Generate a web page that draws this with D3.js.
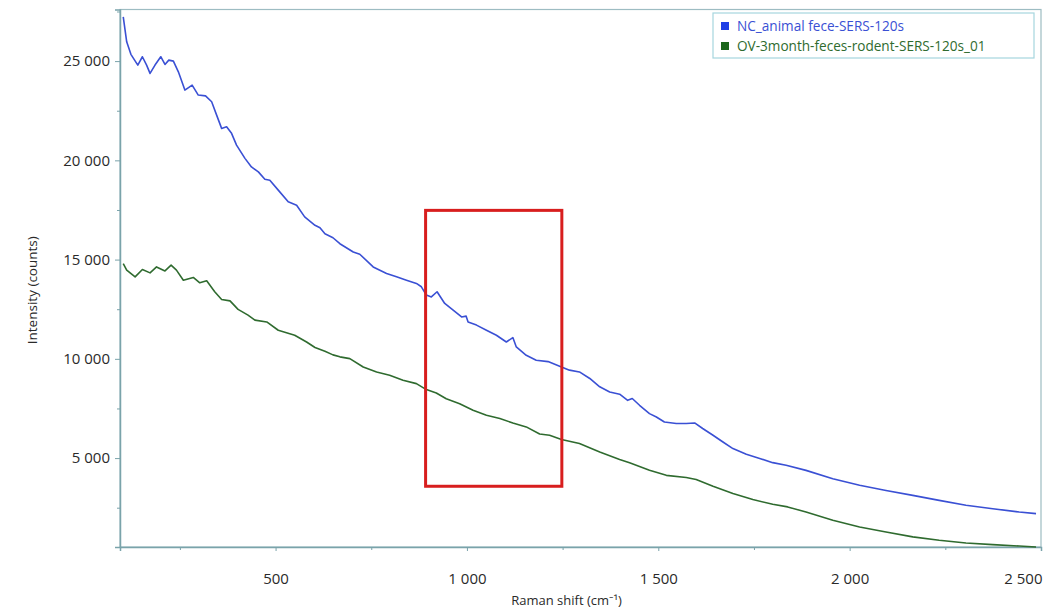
<!DOCTYPE html>
<html>
<head>
<meta charset="utf-8">
<script src="https://cdn.jsdelivr.net/npm/d3@7"></script>
<style>
  body { margin: 0; background: #fff; }
  text { font-family: "Open Sans", "Noto Sans", sans-serif; fill: #2a2a2a; }
  .frame line, .frame path { stroke: #7aa3aa; }
</style>
</head>
<body>
<script>
// spectra (Raman shift in cm-1, intensity in counts)
var ncShift = [102,111,122,140,152,163,172,185,200,211,221,233,246,263,282,298,317,333,346,359,372,385,398,420,437,455,472,485,507,533,555,576,603,616,629,650,668,703,720,755,790,816,842,868,881,894,907,922,942,964,986,998,1003,1025,1051,1077,1103,1120,1129,1155,1181,1212,1247,1268,1294,1321,1347,1373,1399,1420,1432,1451,1477,1495,1516,1547,1573,1595,1616,1643,1669,1695,1730,1765,1799,1834,1886,1956,2026,2095,2165,2234,2304,2374,2443,2487];
var ncCounts = [27230,25970,25340,24800,25220,24800,24380,24800,25220,24830,25050,25000,24460,23540,23790,23290,23250,22950,22280,21610,21690,21360,20770,20100,19670,19420,19050,19000,18500,17910,17740,17150,16730,16600,16300,16100,15800,15380,15270,14630,14300,14130,13960,13800,13630,13210,13120,13380,12790,12450,12110,12150,11860,11700,11440,11190,10850,11070,10600,10180,9930,9860,9590,9430,9340,9010,8590,8330,8220,7910,8000,7660,7240,7070,6820,6740,6740,6770,6490,6150,5810,5480,5190,4980,4770,4640,4380,3960,3630,3370,3120,2870,2620,2450,2280,2200];

var ovShift = [102,111,133,152,172,189,211,227,241,259,285,302,320,341,359,381,402,428,446,477,507,550,581,603,629,650,668,694,729,764,798,833,868,894,920,946,981,1016,1051,1086,1120,1155,1190,1216,1247,1294,1347,1399,1425,1477,1521,1573,1599,1643,1695,1747,1799,1838,1886,1956,2026,2095,2165,2234,2304,2374,2443,2487];
var ovCounts = [14800,14470,14130,14500,14330,14630,14430,14720,14470,13960,14100,13830,13930,13380,12990,12920,12490,12200,11950,11860,11440,11190,10850,10570,10380,10200,10100,10010,9590,9340,9170,8920,8750,8450,8280,7990,7740,7410,7160,6990,6770,6570,6210,6150,5940,5730,5310,4930,4760,4390,4130,4020,3920,3580,3210,2910,2670,2540,2280,1870,1530,1280,1030,860,720,640,570,520];

var seriesNames = ["NC_animal fece-SERS-120s", "OV-3month-feces-rodent-SERS-120s_01"];
var seriesColors = ["#3a50d4", "#2f6b2f"];
var legendColors = ["#1f3fe6", "#1b661b"];

var xTicks = [500, 1000, 1500, 2000, 2500];
var xMinor = [250, 750, 1250, 1750, 2250];
var yTicks = [5000, 10000, 15000, 20000, 25000];
var yMinor = [2500, 7500, 12500, 17500, 22500, 27500];

// highlighted region (red box)
var boxShift = [892, 1248];
var boxCounts = [3580, 17480];

var width = 1051, height = 613;
var plotL = 120, plotR = 1041, plotT = 9.5, plotB = 547;

var fmt = d3.formatLocale({decimal: ".", thousands: " ", grouping: [3], currency: ["", ""]}).format(",d");

var x = d3.scaleLinear().domain([93.5, 2500]).range([plotL, plotR]);
var y = d3.scaleLinear().domain([520, 27600]).range([plotB, plotT]);

var svg = d3.select("body").append("svg")
    .attr("width", width)
    .attr("height", height);

// frame
svg.append("rect")
    .attr("x", plotL).attr("y", plotT)
    .attr("width", plotR - plotL).attr("height", plotB - plotT)
    .attr("fill", "none").attr("stroke", "#9dbcc2").attr("stroke-width", 1.2);

// x axis
var xAxis = svg.append("g").classed("frame", true)
    .attr("transform", "translate(0," + plotB + ")")
    .call(d3.axisBottom(x).tickValues(xTicks).tickFormat(fmt).tickSizeOuter(0).tickSize(4).tickPadding(22));
xAxis.select(".domain").attr("stroke-width", 1.5);
xAxis.selectAll("text").style("font-size", "15px");
// last label sits left of its tick, as in the original
xAxis.selectAll("text").filter(function(d) { return d === 2500; })
    .attr("text-anchor", "end").attr("dx", 1);

svg.append("g").classed("frame", true)
    .attr("transform", "translate(0," + plotB + ")")
    .call(d3.axisBottom(x).tickValues(xMinor).tickFormat("").tickSizeOuter(0).tickSize(3))
    .select(".domain").remove();

// y axis
var yAxis = svg.append("g").classed("frame", true)
    .attr("transform", "translate(" + plotL + ",0)")
    .call(d3.axisLeft(y).tickValues(yTicks).tickFormat(fmt).tickSizeOuter(0).tickSize(5).tickPadding(5));
yAxis.select(".domain").attr("stroke-width", 1.5);
yAxis.selectAll("text").style("font-size", "15px");

svg.append("g").classed("frame", true)
    .attr("transform", "translate(" + plotL + ",0)")
    .call(d3.axisLeft(y).tickValues(yMinor).tickFormat("").tickSizeOuter(0).tickSize(3))
    .select(".domain").remove();

// axis titles
svg.append("text")
    .attr("x", (plotL + plotR) / 2 - 14)
    .attr("y", 605)
    .attr("text-anchor", "middle")
    .style("font-size", "13px")
    .text("Raman shift (cm\u207B\u00B9)");

svg.append("text")
    .attr("transform", "translate(37," + ((plotT + plotB) / 2 + 12) + ") rotate(-90)")
    .attr("text-anchor", "middle")
    .style("font-size", "13.5px")
    .text("Intensity (counts)");

// spectra
var line = d3.line()
    .x(function(d) { return x(d[0]); })
    .y(function(d) { return y(d[1]); });

var spectra = [d3.zip(ncShift, ncCounts), d3.zip(ovShift, ovCounts)];

svg.selectAll(".spectrum").data(spectra).enter()
    .append("path")
    .classed("spectrum", true)
    .attr("d", line)
    .attr("fill", "none")
    .attr("stroke", function(d, i) { return seriesColors[i]; })
    .attr("stroke-width", 1.6)
    .attr("stroke-linejoin", "round");

// red box
svg.append("rect")
    .attr("x", x(boxShift[0]))
    .attr("y", y(boxCounts[1]))
    .attr("width", x(boxShift[1]) - x(boxShift[0]))
    .attr("height", y(boxCounts[0]) - y(boxCounts[1]))
    .attr("fill", "none")
    .attr("stroke", "#d81e1e")
    .attr("stroke-width", 3);

// legend
var legend = svg.append("g").attr("transform", "translate(713,13)");
legend.append("rect")
    .attr("width", 321).attr("height", 45)
    .attr("fill", "#fff")
    .attr("stroke", "#a6d6de").attr("stroke-width", 1.2);

var items = legend.selectAll(".item").data(seriesNames).enter()
    .append("g")
    .attr("transform", function(d, i) { return "translate(8," + (9 + i * 20) + ")"; });

items.append("rect")
    .attr("width", 8).attr("height", 8)
    .attr("fill", function(d, i) { return legendColors[i]; });

items.append("text")
    .attr("x", 16).attr("y", 9)
    .style("font-size", "13.6px")
    .style("fill", function(d, i) { return seriesColors[i]; })
    .text(function(d) { return d; });
</script>
</body>
</html>
